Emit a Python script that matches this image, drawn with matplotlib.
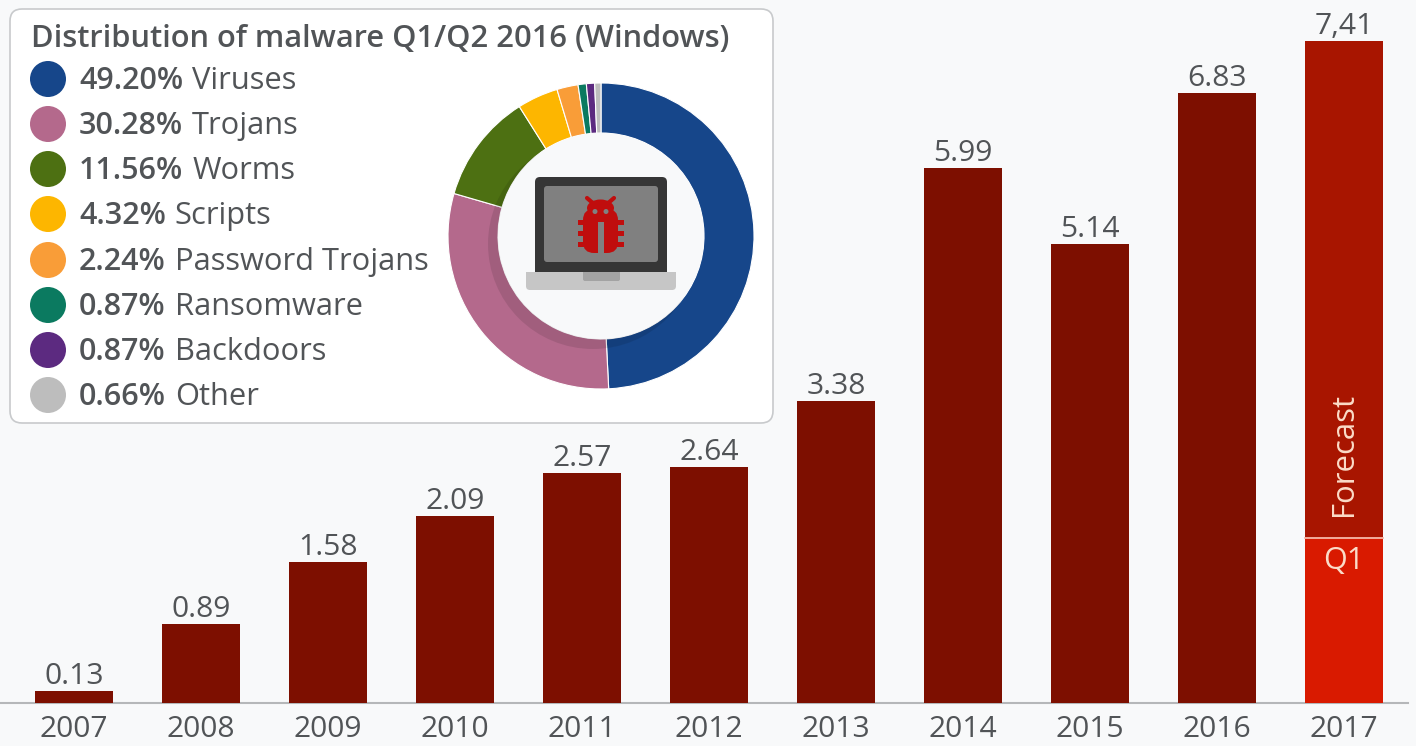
import matplotlib
matplotlib.use("Agg")
import matplotlib.pyplot as plt
from matplotlib.patches import Circle, Ellipse, FancyBboxPatch, Rectangle

plt.rcParams['font.family'] = ['Open Sans', 'DejaVu Sans']

years = [2007, 2008, 2009, 2010, 2011, 2012, 2013, 2014, 2015, 2016, 2017]
shipments = [0.13, 0.89, 1.58, 2.09, 2.57, 2.64, 3.38, 5.99, 5.14, 6.83, 7.41]
bar_labels = ["0.13", "0.89", "1.58", "2.09", "2.57", "2.64", "3.38", "5.99", "5.14", "6.83", "7,41"]
q1_2017 = 1.85

shares = [49.20, 30.28, 11.56, 4.32, 2.24, 0.87, 0.87, 0.66]
share_names = ["Viruses", "Trojans", "Worms", "Scripts", "Password Trojans", "Ransomware", "Backdoors", "Other"]
share_colors = ["#16468a", "#b4698c", "#4d7012", "#fdb600", "#f99d38", "#0b7a60", "#5c2a80", "#bdbdbd"]

BG = "#f8f9fa"
TEXT = "#515457"
W, H = 1416, 746

fig = plt.figure(figsize=(W / 100, H / 100), dpi=100, facecolor=BG)

# bars: full figure axes, one year = 127 px, one unit = 89.3 px, baseline at y=703
ax = fig.add_axes([0, 0, 1, 1], zorder=0)
ax.set_facecolor(BG)
ax.set_xlim(2007 - 74 / 127, 2007 + (W - 74) / 127)
ax.set_ylim(-(H - 703) / 89.3, 703 / 89.3)
ax.axis("off")

width = 78 / 127
ax.bar(years[:-1], shipments[:-1], width=width, color="#7d0f00")
ax.bar(years[-1], shipments[-1] - q1_2017, bottom=q1_2017, width=width, color="#a81500")
ax.bar(years[-1], q1_2017, width=width, color="#d91a00")
ax.plot([years[-1] - width / 2, years[-1] + width / 2], [q1_2017, q1_2017], color="#f5b8a8", lw=1.3)
ax.plot([2007 - 74 / 127, 2017 + 64 / 127], [0, 0], color="#b5b7b9", lw=1.5, zorder=0.5)

for year, val, lab in zip(years, shipments, bar_labels):
    ax.text(year, val + 0.0, lab, ha="center", va="bottom", fontsize=21.6, color=TEXT)
    ax.text(year, -0.295, str(year), ha="center", va="center", fontsize=21.6, color=TEXT)

ax.text(years[-1], q1_2017 + 0.24, "Forecast", rotation=90, ha="center", va="bottom", fontsize=22.4, color="#fbdcc8")
ax.text(years[-1], q1_2017 - 0.09, "Q1", ha="center", va="top", fontsize=22, color="#fbdcc8")

# legend panel, in pixel coordinates
panel = fig.add_axes([0, 0, 1, 1], zorder=1)
panel.set_xlim(0, W)
panel.set_ylim(H, 0)
panel.axis("off")
panel.patch.set_alpha(0)
panel.add_patch(FancyBboxPatch((20, 19), 743, 394, boxstyle="round,pad=10,rounding_size=12",
                               fc="white", ec="#c8cacc", lw=1.2))
panel.text(31, 39, "Distribution of malware Q1/Q2 2016 (Windows)", fontsize=22.2, fontweight=600,
           color=TEXT, va="center")

row_y = [79, 124, 169, 214, 260, 305, 350, 395]
for y, share, name, col in zip(row_y, shares, share_names, share_colors):
    panel.add_patch(Circle((48, y), 18, fc=col, ec="none"))
    t = panel.text(79, y + 2, f"{share:.2f}%", fontsize=22, fontweight=600, color=TEXT, va="center")
    bb = t.get_window_extent(fig.canvas.get_renderer())
    panel.text(bb.x1 + 9, y + 2, name, fontsize=22.2, color=TEXT, va="center")

# donut
cx, cy, r_out, r_in = 601, 236, 153, 103
pad = 160
donut = fig.add_axes([(cx - pad) / W, 1 - (cy + pad) / H, 2 * pad / W, 2 * pad / H], zorder=2)
donut.pie(shares, colors=share_colors, startangle=90, counterclock=False, radius=r_out,
          wedgeprops=dict(width=r_out - r_in, edgecolor="white", linewidth=0.8))
donut.set_xlim(-pad, pad)
donut.set_ylim(-pad, pad)
donut.patch.set_alpha(0)
donut.add_patch(Circle((-8, -8), r_in + 2, fc="black", alpha=0.1, ec="none", zorder=3))
donut.add_patch(Circle((0, 0), r_in, fc=BG, ec="none", zorder=4))

# laptop with a bug on its screen
icon = fig.add_axes([0, 0, 1, 1], zorder=3)
icon.set_xlim(0, W)
icon.set_ylim(H, 0)
icon.axis("off")
icon.patch.set_alpha(0)


def rrect(x0, y0, x1, y1, rad, col):
    icon.add_patch(FancyBboxPatch((x0 + rad, y0 + rad), x1 - x0 - 2 * rad, y1 - y0 - 2 * rad,
                                  boxstyle=f"round,pad={rad},rounding_size={rad}", fc=col, ec="none"))


rrect(535, 177, 667, 272, 5, "#363636")
icon.add_patch(Rectangle((535, 266), 132, 6, fc="#363636", ec="none"))
rrect(544, 186, 658, 262, 3, "#808080")
rrect(526, 272, 676, 290, 4, "#c6c6c6")
icon.add_patch(Rectangle((526, 272), 150, 6, fc="#c6c6c6", ec="none"))
rrect(583, 272, 620, 281, 2, "#a3a3a3")
icon.add_patch(Rectangle((583, 272), 37, 4, fc="#a3a3a3", ec="none"))

red = "#c00d0d"
rrect(583, 209, 618, 253, 11, red)
icon.add_patch(Ellipse((600.5, 208), 27, 17, fc=red, ec="none"))
for leg_y in (220, 231, 242):
    icon.add_patch(Rectangle((578, leg_y), 46, 5, fc=red, ec="none"))
icon.plot([587, 595], [198, 205], color=red, lw=3, solid_capstyle="round")
icon.plot([614, 606], [198, 205], color=red, lw=3, solid_capstyle="round")
icon.add_patch(Rectangle((598, 222), 5.5, 32, fc="#808080", ec="none"))
icon.add_patch(Circle((595, 211.5), 2.5, fc="#808080", ec="none"))
icon.add_patch(Circle((606, 211.5), 2.5, fc="#808080", ec="none"))

fig.savefig("out.png", dpi=100, facecolor=BG)
